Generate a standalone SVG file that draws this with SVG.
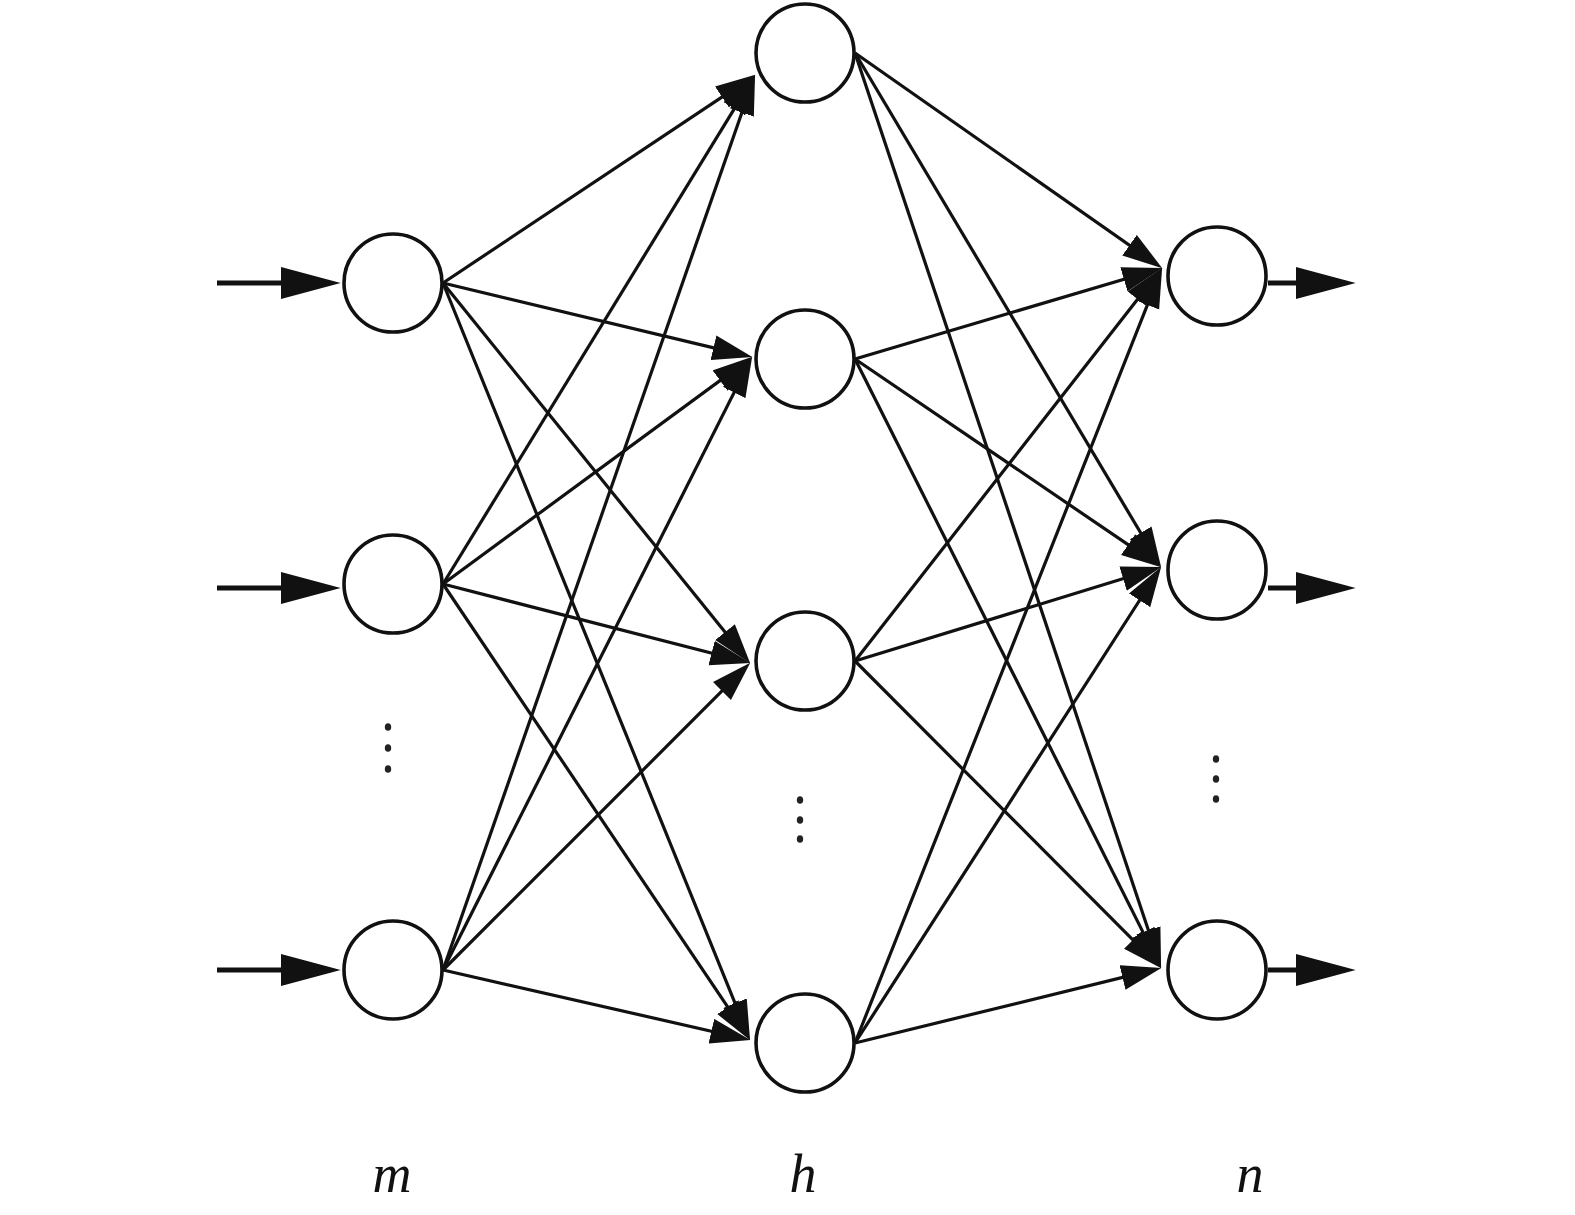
<svg xmlns="http://www.w3.org/2000/svg" width="1575" height="1215" viewBox="0 0 1575 1215">
<style>
.node{fill:#fff;stroke:#111;stroke-width:3.6}
.edge{stroke:#111;stroke-width:3.2;fill:none}
.io{stroke:#111;stroke-width:5;fill:none}
.dot{fill:#222}
.lbl{font-family:"Liberation Serif",serif;font-style:italic;font-size:54px;fill:#111;text-anchor:middle}
</style>
<defs>
<marker id="ah" markerUnits="userSpaceOnUse" markerWidth="40" markerHeight="26" refX="32" refY="12" orient="auto" viewBox="0 0 38 24">
<path d="M0,0 L38,12 L0,24 z" fill="#111"/>
</marker>
<marker id="big" markerUnits="userSpaceOnUse" markerWidth="60" markerHeight="32" refX="46" refY="15" orient="auto" viewBox="0 0 56 30">
<path d="M0,0 L56,15 L0,30 z" fill="#111"/>
</marker>
</defs>
<g id="connectors">
<line class="io" x1="217" y1="283" x2="330" y2="283" marker-end="url(#big)"/>
<line class="io" x1="217" y1="588" x2="330" y2="588" marker-end="url(#big)"/>
<line class="io" x1="217" y1="970" x2="330" y2="970" marker-end="url(#big)"/>
<line class="io" x1="1268" y1="283" x2="1345" y2="283" marker-end="url(#big)"/>
<line class="io" x1="1268" y1="588" x2="1345" y2="588" marker-end="url(#big)"/>
<line class="io" x1="1268" y1="970" x2="1345" y2="970" marker-end="url(#big)"/>
<line class="edge" x1="443" y1="283" x2="750.0" y2="78.3" marker-end="url(#ah)"/>
<line class="edge" x1="443" y1="283" x2="746.2" y2="355.6" marker-end="url(#ah)"/>
<line class="edge" x1="443" y1="283" x2="746.2" y2="658.3" marker-end="url(#ah)"/>
<line class="edge" x1="443" y1="283" x2="747.7" y2="1034.4" marker-end="url(#ah)"/>
<line class="edge" x1="443" y1="584" x2="751.9" y2="80.1" marker-end="url(#ah)"/>
<line class="edge" x1="443" y1="584" x2="747.2" y2="360.6" marker-end="url(#ah)"/>
<line class="edge" x1="443" y1="584" x2="744.2" y2="661.5" marker-end="url(#ah)"/>
<line class="edge" x1="443" y1="584" x2="746.6" y2="1035.0" marker-end="url(#ah)"/>
<line class="edge" x1="443" y1="970" x2="753.0" y2="80.7" marker-end="url(#ah)"/>
<line class="edge" x1="443" y1="970" x2="749.3" y2="362.4" marker-end="url(#ah)"/>
<line class="edge" x1="443" y1="970" x2="745.8" y2="667.2" marker-end="url(#ah)"/>
<line class="edge" x1="443" y1="970" x2="744.2" y2="1038.7" marker-end="url(#ah)"/>
<line class="edge" x1="855" y1="53" x2="1157.1" y2="264.6" marker-end="url(#ah)"/>
<line class="edge" x1="855" y1="53" x2="1157.9" y2="561.8" marker-end="url(#ah)"/>
<line class="edge" x1="855" y1="53" x2="1159.1" y2="962.3" marker-end="url(#ah)"/>
<line class="edge" x1="855" y1="359" x2="1156.2" y2="269.7" marker-end="url(#ah)"/>
<line class="edge" x1="855" y1="359" x2="1156.0" y2="563.6" marker-end="url(#ah)"/>
<line class="edge" x1="855" y1="359" x2="1158.3" y2="962.6" marker-end="url(#ah)"/>
<line class="edge" x1="855" y1="661" x2="1158.3" y2="272.7" marker-end="url(#ah)"/>
<line class="edge" x1="855" y1="661" x2="1155.3" y2="568.8" marker-end="url(#ah)"/>
<line class="edge" x1="855" y1="661" x2="1156.8" y2="963.8" marker-end="url(#ah)"/>
<line class="edge" x1="855" y1="1043" x2="1159.8" y2="273.6" marker-end="url(#ah)"/>
<line class="edge" x1="855" y1="1043" x2="1157.8" y2="572.0" marker-end="url(#ah)"/>
<line class="edge" x1="855" y1="1043" x2="1155.2" y2="969.4" marker-end="url(#ah)"/>
</g>
<g id="input1"><circle class="node" cx="393" cy="283" r="49"/></g>
<g id="input2"><circle class="node" cx="393" cy="584" r="49"/></g>
<g id="input3"><circle class="node" cx="393" cy="970" r="49"/></g>
<g id="hidden1"><circle class="node" cx="805" cy="53" r="49"/></g>
<g id="hidden2"><circle class="node" cx="805" cy="359" r="49"/></g>
<g id="hidden3"><circle class="node" cx="805" cy="661" r="49"/></g>
<g id="hidden4"><circle class="node" cx="805" cy="1043" r="49"/></g>
<g id="output1"><circle class="node" cx="1217" cy="276" r="49"/></g>
<g id="output2"><circle class="node" cx="1217" cy="570" r="49"/></g>
<g id="output3"><circle class="node" cx="1217" cy="970" r="49"/></g>
<g id="ellipses">
<ellipse class="dot" cx="388" cy="727" rx="3.2" ry="3.8"/>
<ellipse class="dot" cx="388" cy="748" rx="3.2" ry="3.8"/>
<ellipse class="dot" cx="388" cy="769" rx="3.2" ry="3.8"/>
<ellipse class="dot" cx="800" cy="800" rx="3.2" ry="3.8"/>
<ellipse class="dot" cx="800" cy="820" rx="3.2" ry="3.8"/>
<ellipse class="dot" cx="800" cy="839" rx="3.2" ry="3.8"/>
<ellipse class="dot" cx="1216" cy="759" rx="3.2" ry="3.8"/>
<ellipse class="dot" cx="1216" cy="779" rx="3.2" ry="3.8"/>
<ellipse class="dot" cx="1216" cy="799" rx="3.2" ry="3.8"/>
</g>
<g id="labels">
<text class="lbl" x="392" y="1192">m</text>
<text class="lbl" x="803" y="1192">h</text>
<text class="lbl" x="1250" y="1192">n</text>
</g>
</svg>
